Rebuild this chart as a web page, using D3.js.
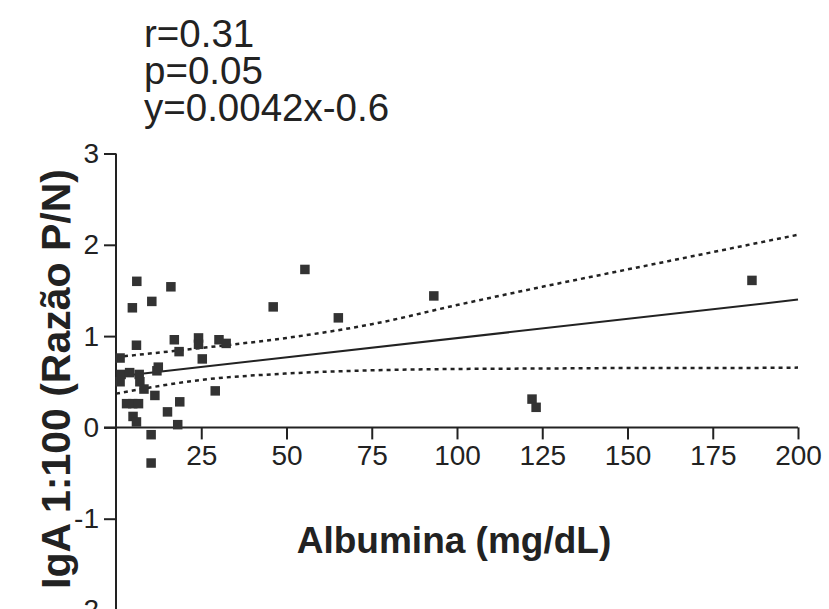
<!DOCTYPE html>
<html>
<head>
<meta charset="utf-8">
<script src="https://cdn.jsdelivr.net/npm/d3@7"></script>
<style>
  body { margin: 0; background: #fff; }
  svg { display: block; }
  text { font-family: Arial, "Liberation Sans", sans-serif; fill: #222; }
</style>
</head>
<body>
<svg id="chart" width="829" height="609"></svg>
<script>
// albumin (mg/dL) vs IgA 1:100 P/N ratio
const albumin = [6.1, 16.1, 10.5, 4.8, 6.0, 17.1, 18.5, 24.2, 24.2, 25.3,
                 30.2, 32.3, 1.2, 12.4, 12.0, 1.5, 4.0, 6.8, 1.2, 7.0,
                 8.2, 11.4, 29.1, 3.1, 4.9, 6.6, 18.7, 15.1, 5.0, 6.0,
                 18.1, 10.3, 10.3, 46.1, 55.4, 65.2, 93.2, 122.0, 123.2, 186.5];
const igA = [1.60, 1.54, 1.38, 1.31, 0.90, 0.96, 0.83, 0.98, 0.91, 0.75,
             0.96, 0.92, 0.76, 0.66, 0.62, 0.58, 0.60, 0.58, 0.50, 0.50,
             0.42, 0.35, 0.40, 0.26, 0.26, 0.26, 0.28, 0.17, 0.12, 0.06,
             0.03, -0.08, -0.39, 1.32, 1.73, 1.20, 1.44, 0.31, 0.22, 1.61];

// fitted line and 95% band
const fitX = [1, 200];
const fitY = [0.56, 1.40];
const bandX = [0, 25, 50, 75, 100, 125, 150, 175, 200];
const bandUpper = [0.77, 0.87, 0.98, 1.13, 1.34, 1.54, 1.73, 1.92, 2.11];
const bandLower = [0.37, 0.52, 0.59, 0.625, 0.64, 0.645, 0.65, 0.65, 0.655];

const xTicks = [25, 50, 75, 100, 125, 150, 175, 200];
const yTicks = [-2, -1, 0, 1, 2, 3];
const statLines = ["r=0.31", "p=0.05", "y=0.0042x-0.6"];

const svg = d3.select("#chart");

var x = d3.scaleLinear().domain([0, 200]).range([116, 798]);
var y = d3.scaleLinear().domain([-2, 3]).range([610, 153.5]);

// y axis at x=0
svg.append("g")
    .attr("transform", "translate(" + x(0) + ",0)")
    .call(d3.axisLeft(y).tickValues(yTicks).tickSize(12).tickPadding(5).tickFormat(d => String(d)))
    .call(g => g.select(".domain").attr("stroke", "#222").attr("stroke-width", 2).attr("d", "M0," + y(3) + "V" + y(-2.2)))
    .call(g => g.selectAll(".tick line").attr("stroke", "#222").attr("stroke-width", 2))
    .call(g => g.selectAll(".tick text").attr("font-size", 28).style("fill", "#222"));

// x axis at y=0
svg.append("g")
    .attr("transform", "translate(0," + y(0) + ")")
    .call(d3.axisBottom(x).tickValues(xTicks).tickSize(12).tickPadding(6).tickFormat(d => String(d)))
    .call(g => g.select(".domain").attr("stroke", "#222").attr("stroke-width", 2).attr("d", "M" + (x(0) - 12) + ",0H" + x(200)))
    .call(g => g.selectAll(".tick line").attr("stroke", "#222").attr("stroke-width", 2))
    .call(g => g.selectAll(".tick text").attr("font-size", 28).style("fill", "#222"));

// confidence band
var band = d3.line()
    .x((d, i) => x(bandX[i]))
    .y(d => y(d))
    .curve(d3.curveMonotoneX);

svg.selectAll("path.band").data([bandUpper, bandLower])
    .join("path")
    .attr("class", "band")
    .attr("fill", "none")
    .attr("stroke", "#222")
    .attr("stroke-width", 2.5)
    .attr("stroke-dasharray", "4,4")
    .attr("d", band);

// regression line
svg.append("line")
    .attr("x1", x(fitX[0])).attr("y1", y(fitY[0]))
    .attr("x2", x(fitX[1])).attr("y2", y(fitY[1]))
    .attr("stroke", "#222")
    .attr("stroke-width", 2);

// points
var s = 9.5;
svg.selectAll("rect.pt").data(albumin)
    .join("rect")
    .attr("class", "pt")
    .attr("x", d => x(d) - s / 2)
    .attr("y", (d, i) => y(igA[i]) - s / 2)
    .attr("width", s)
    .attr("height", s)
    .attr("fill", "#333");

// stats text
svg.selectAll("text.stat").data(statLines)
    .join("text")
    .attr("class", "stat")
    .attr("x", 144)
    .attr("y", (d, i) => 47 + i * 37)
    .attr("font-size", 38.5)
    .text(d => d);

// axis titles
svg.append("text")
    .attr("x", 454)
    .attr("y", 553)
    .attr("text-anchor", "middle")
    .attr("font-size", 37)
    .attr("font-weight", "bold")
    .text("Albumina (mg/dL)");

svg.append("text")
    .attr("transform", "translate(70,379) rotate(-90)")
    .attr("text-anchor", "middle")
    .attr("font-size", 41)
    .attr("font-weight", "bold")
    .text("IgA 1:100 (Razão P/N)");
</script>
</body>
</html>
